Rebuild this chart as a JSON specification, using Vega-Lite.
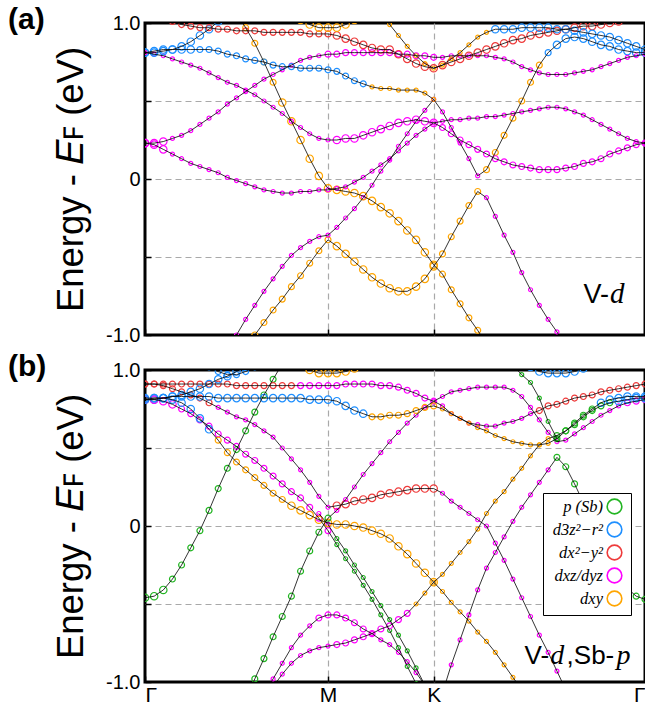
{
"$schema":"https://vega.github.io/schema/vega-lite/v6.json",
"padding":{"left":6,"top":3,"right":0,"bottom":0},
"autosize":{"type":"pad"},
"spacing":3,
"datasets":{
"kg":[{"i":1,"k":0},{"i":2,"k":0.0433},{"i":3,"k":0.0866},{"i":4,"k":0.1299},{"i":5,"k":0.1732},{"i":6,"k":0.2165},{"i":7,"k":0.2598},{"i":8,"k":0.3031},{"i":9,"k":0.3464},{"i":10,"k":0.3897},{"i":11,"k":0.433},{"i":12,"k":0.4763},{"i":13,"k":0.5196},{"i":14,"k":0.5629},{"i":15,"k":0.6062},{"i":16,"k":0.6495},{"i":17,"k":0.6928},{"i":18,"k":0.7361},{"i":19,"k":0.7794},{"i":20,"k":0.8227},{"i":21,"k":0.866},{"i":22,"k":0.9077},{"i":23,"k":0.9493},{"i":24,"k":0.991},{"i":25,"k":1.0327},{"i":26,"k":1.0743},{"i":27,"k":1.116},{"i":28,"k":1.1577},{"i":29,"k":1.1993},{"i":30,"k":1.241},{"i":31,"k":1.2827},{"i":32,"k":1.3243},{"i":33,"k":1.366},{"i":34,"k":1.4077},{"i":35,"k":1.4493},{"i":36,"k":1.491},{"i":37,"k":1.5327},{"i":38,"k":1.5743},{"i":39,"k":1.616},{"i":40,"k":1.6577},{"i":41,"k":1.6993},{"i":42,"k":1.741},{"i":43,"k":1.7827},{"i":44,"k":1.8243},{"i":45,"k":1.866},{"i":46,"k":1.9077},{"i":47,"k":1.9493},{"i":48,"k":1.991},{"i":49,"k":2.0327},{"i":50,"k":2.0743},{"i":51,"k":2.116},{"i":52,"k":2.1577},{"i":53,"k":2.1993},{"i":54,"k":2.241},{"i":55,"k":2.2827},{"i":56,"k":2.3243},{"i":57,"k":2.366}],
"codes":[{"c":"g1","orb":"p (Sb)","w":1},{"c":"g2","orb":"p (Sb)","w":2},{"c":"g3","orb":"p (Sb)","w":3},{"c":"b1","orb":"d3z²−r²","w":1},{"c":"b2","orb":"d3z²−r²","w":2},{"c":"b3","orb":"d3z²−r²","w":3},{"c":"r1","orb":"dx²−y²","w":1},{"c":"r2","orb":"dx²−y²","w":2},{"c":"r3","orb":"dx²−y²","w":3},{"c":"m1","orb":"dxz/dyz","w":1},{"c":"m2","orb":"dxz/dyz","w":2},{"c":"m3","orb":"dxz/dyz","w":3},{"c":"o1","orb":"dxy","w":1},{"c":"o2","orb":"dxy","w":2},{"c":"o3","orb":"dxy","w":3}],
"bd":[
{"p":"a","b":"a1","e":[null,null,null,null,null,null,null,null,null,null,null,-1.08,-1,-0.92,-0.84,-0.77,-0.69,-0.62,-0.54,-0.46,-0.39,-0.43,-0.48,-0.53,-0.58,-0.63,-0.67,-0.7,-0.72,-0.72,-0.69,-0.64,-0.56,-0.48,-0.37,-0.27,-0.17,-0.08,-0.12,-0.24,-0.36,-0.47,-0.6,-0.71,-0.81,-0.9,-0.98,-1.07],
"c":["o2","o2","o2","o2","o2","o2","o2","o2","o2","o2","o2","o2","o2","o2","o2","o2","o2","o2","o2","o2","o2","o3","o3","o3","o3","o3","o3","o3","o3","o3","o3","o3","o3","o2","o2","o2","o2","o2","m1","m1","m1","m1","m1","m1","m1","m1","m1","m1"]},
{"p":"a","b":"a2","e":[null,null,null,null,null,null,null,null,null,-1.1,-1,-0.9,-0.81,-0.72,-0.64,-0.56,-0.49,-0.44,-0.4,-0.37,-0.36,-0.31,-0.25,-0.19,-0.12,-0.04,0.05,0.12,0.21,0.29,0.37,0.44,0.51,0.43,0.33,0.23,0.13,0.02,0.06,0.17,0.28,0.39,0.5,0.62,0.73,0.81,0.86,0.9,0.91,0.9,0.88,0.86,0.85,0.83,0.82,0.81,0.81],
"c":["m1","m1","m1","m1","m1","m1","m1","m1","m1","m1","m1","m1","m1","m1","m1","m1","m1","m1","m1","m1","m1","m1","m1","m1","m1","m1","m1","m1","m1","m1","m1","m1","m1","m1","m1","m1","m1","m1","o2","o2","o2","o2","o2","o2","o2","b2","b3","b3","b3","b3","b3","b3","b3","b3","b3","b3","b3"]},
{"p":"a","b":"a3","e":[null,null,null,null,null,null,null,null,null,null,1.06,0.97,0.87,0.75,0.62,0.49,0.37,0.25,0.13,0.02,-0.06,-0.07,-0.08,-0.09,-0.11,-0.14,-0.18,-0.22,-0.27,-0.33,-0.39,-0.47,-0.55,-0.61,-0.71,-0.8,-0.89,-0.97,-1.06],
"c":["o2","o2","o2","o2","o2","o2","o2","o2","o2","o2","o2","o2","o2","o2","o2","o3","o3","o3","o3","o3","o3","o3","o3","o3","o3","o3","o3","o3","o3","o3","o3","o3","o3","o2","o2","o2","o2","o2","o2"]},
{"p":"a","b":"a4","e":[0.23,0.22,0.19,0.16,0.13,0.1,0.08,0.06,0.04,0.01,-0.01,-0.03,-0.05,-0.07,-0.08,-0.09,-0.09,-0.08,-0.08,-0.07,-0.07,-0.06,-0.05,-0.02,0.01,0.05,0.09,0.13,0.18,0.23,0.28,0.32,0.36,0.33,0.29,0.25,0.22,0.19,0.16,0.13,0.11,0.09,0.08,0.07,0.06,0.06,0.06,0.07,0.08,0.1,0.11,0.13,0.16,0.18,0.2,0.22,0.23],
"c":["m3","m3","m3","m1","m1","m1","m1","m1","m1","m1","m1","m1","m1","m1","m1","m1","m1","m1","m1","m1","m1","m1","m1","m1","m1","m1","m1","m1","m1","m1","m1","m1","m1","m2","m2","m2","m2","m2","m2","m2","m2","m2","m2","m2","m2","m2","m2","m2","m2","m2","m2","m2","m2","m2","m2","m2","m2"]},
{"p":"a","b":"a5","e":[0.23,0.23,0.24,0.26,0.28,0.31,0.35,0.39,0.43,0.48,0.52,0.56,0.6,0.64,0.67,0.7,0.73,0.76,0.78,0.79,0.8,0.8,0.81,0.81,0.81,0.81,0.81,0.81,0.8,0.8,0.79,0.79,0.78,0.78,0.79,0.79,0.79,0.79,0.79,0.78,0.77,0.75,0.72,0.7,0.68,0.67,0.67,0.67,0.68,0.69,0.7,0.72,0.74,0.76,0.78,0.79,0.8],
"c":["m3","m3","m3","m1","m1","m1","m1","m1","m1","m1","m1","m1","m1","m1","m1","m1","m1","m1","m1","m1","m2","m2","m2","m2","m2","m2","m2","m2","m2","m2","m2","m2","m2","m1","m1","m1","m1","m1","m1","m1","m1","m1","m1","m1","m1","m1","m1","m1","m1","m1","m1","m1","m1","m1","m1","m1","m1"]},
{"p":"a","b":"a6","e":[0.81,0.8,0.79,0.77,0.75,0.73,0.71,0.68,0.65,0.62,0.6,0.57,0.54,0.5,0.46,0.42,0.37,0.33,0.29,0.26,0.25,0.25,0.26,0.26,0.28,0.3,0.32,0.34,0.36,0.37,0.38,0.37,0.36,0.37,0.38,0.38,0.39,0.39,0.4,0.4,0.41,0.42,0.43,0.44,0.45,0.46,0.46,0.45,0.43,0.41,0.38,0.35,0.32,0.29,0.26,0.24,0.23],
"c":["m1","m1","m1","m1","m1","m1","m1","m1","m1","m1","m1","m1","m1","m1","m1","m1","m1","m1","m1","m1","m1","m3","m3","m3","m3","m3","m3","m3","m3","m3","m3","m3","m3","m1","m1","m1","m1","m1","m1","m1","m1","m1","m1","m1","m1","m1","m1","m1","m1","m1","m1","m1","m1","m1","m1","m1","m1"]},
{"p":"a","b":"a7","e":[0.81,0.82,0.83,0.83,0.83,0.83,0.83,0.83,0.82,0.8,0.79,0.77,0.76,0.75,0.73,0.72,0.72,0.71,0.71,0.71,0.7,0.69,0.66,0.63,0.61,0.59,0.58,0.58,0.57,0.57,0.57,0.55,0.51],
"c":["b3","b3","b3","b3","b3","b3","b2","b2","b2","b2","b2","b2","b2","b2","b2","b2","b2","b2","b2","b2","b2","b2","b2","b2","b2","o1","o1","o1","o1","o1","o1","o1","o1"]},
{"p":"a","b":"a8","e":[0.81,0.81,0.82,0.83,0.85,0.88,0.92,0.96,1.01],"c":["b3","b3","b3","b3","b3","b3","b3","b3","b3"]},
{"p":"a","b":"a9","e":[null,null,1.03,1.01,0.99,0.98,0.97,0.97,0.96,0.96,0.95,0.95,0.95,0.94,0.94,0.94,0.94,0.94,0.93,0.93,0.93,0.92,0.9,0.88,0.86,0.84,0.83,0.83,0.8,0.77,0.74,0.72,0.71,0.73,0.75,0.77,0.79,0.81,0.83,0.85,0.87,0.89,0.9,0.92,0.93,0.94,0.95,0.96,0.97,0.98,0.98,0.99,1,1.01],
"c":["r2","r2","r2","r2","r2","r2","r2","r2","r2","r2","r2","r2","r2","r2","r2","r2","r2","r2","r2","r2","r2","r3","r3","r3","r3","r3","r3","r3","r3","r3","r3","r3","r3","r3","r3","r3","r3","r3","r3","r3","r3","r3","r3","r3","r3","r3","r3","r3","r3","r3","r3","r3","r3","r3"]},
{"p":"a","b":"a10","e":[null,null,null,null,null,null,null,null,null,null,null,null,null,null,null,null,null,null,null,null,null,null,null,null,null,null,1.05,0.99,0.92,0.85,0.79,0.74,0.71,0.73,0.77,0.81,0.86,0.91,0.94,0.96,0.96,0.96,0.97,0.97,0.97,0.97,0.96,0.96,0.95,0.94,0.93,0.92,0.91,0.89,0.87,0.85,0.83],
"c":["o1","o1","o1","o1","o1","o1","o1","o1","o1","o1","o1","o1","o1","o1","o1","o1","o1","o1","o1","o1","o1","o1","o1","o1","o1","o1","o1","o1","o1","o1","o1","o1","o1","o1","o1","o1","o1","o1","o1","b3","b3","b3","b3","b3","b3","b3","b3","b3","b3","b3","b3","b3","b3","b3","b3","b3","b3"]},
{"p":"a","b":"a11","e":[null,null,null,null,null,null,null,null,null,null,null,null,null,null,null,null,null,1.02,0.99,0.97,0.97,0.97,0.99,1.02],"c":["o3","o3","o3","o3","o3","o3","o3","o3","o3","o3","o3","o3","o3","o3","o3","o3","o3","o3","o3","o3","o3","o3","o3","o3"]},
{"p":"b","b":"b1","e":[-0.46,-0.45,-0.41,-0.34,-0.25,-0.14,-0.03,0.1,0.24,0.37,0.49,0.61,0.73,0.84,0.94,1.04],"c":["g3","g3","g3","g2","g2","g2","g2","g2","g2","g2","g2","g2","g2","g2","g2","g2"]},
{"p":"b","b":"b2","e":[0.91,0.91,0.91,0.91,0.91,0.91,0.91,0.91,0.91,0.91,0.9,0.9,0.9,0.9,0.9,0.9,0.9,0.9,0.9,0.9,0.9,0.9,0.91,0.91,0.91,0.91,0.9,0.9,0.89,0.87,0.85,0.82,0.8,0.77,0.72,0.69,0.66,0.65,0.64,0.64,0.66,0.67,0.69,0.72,0.74,0.77,0.78,0.8,0.82,0.83,0.84,0.86,0.87,0.88,0.89,0.9,0.91],
"c":["r2","r2","r2","r2","r2","r2","r2","r2","r2","r2","r2","r2","r2","r2","r2","r2","r2","m2","m2","m2","m2","m2","m2","m2","m2","m2","m2","m2","m2","m2","m2","m2","m2","m1","m1","m1","m1","m1","m1","m1","m1","m1","m1","m1","r2","r2","r2","r2","r2","r2","r2","r2","r2","r2","r2","r2","r2"]},
{"p":"b","b":"b3","e":[0.91,0.91,0.9,0.88,0.86,0.84,0.82,0.79,0.76,0.73,0.7,0.68,0.65,0.61,0.57,0.5,0.43,0.36,0.28,0.19,0.12,0.13,0.14,0.16,0.17,0.18,0.2,0.21,0.22,0.23,0.24,0.24,0.24,0.21,0.16,0.12,0.08,0.04,0,-0.11,-0.22,-0.34,-0.46,-0.58,-0.7,-0.81,-0.93,-1.05],
"c":["r2","r2","r2","r2","r2","r2","r2","r2","m1","m1","m1","m1","m1","m1","m1","m1","m1","m1","m1","m1","m1","r3","r3","r3","r3","r3","r3","r3","r3","r3","r3","r3","r3","m1","m1","m1","m1","m1","m1","m1","m1","m1","m1","m1","m1","m1","m1","m1"]},
{"p":"b","b":"b4","e":[0.81,0.81,0.82,0.83,0.84,0.86,0.88,0.91,0.94,0.96,0.99,1.02],"c":["b3","b3","b3","b3","b3","b3","b3","b3","b3","b3","b3","b3"]},
{"p":"b","b":"b5","e":[0.81,0.81,0.8,0.78,0.75,0.72,0.68,0.64,0.59,0.55,0.51,0.46,0.42,0.37,0.32,0.27,0.22,0.18,0.12,0.05,-0.03,-0.12,-0.21,-0.29,-0.38,-0.47,-0.57,-0.67,-0.78,-0.9,-1.01],
"c":["m3","m3","m3","m3","m2","m2","m2","m2","m2","m2","m2","m2","m2","m2","m2","m2","m2","m2","m2","m2","m2","g1","g1","g1","g1","g1","g1","g1","g1","g1","g1"]},
{"p":"b","b":"b16","e":[null,null,null,null,null,null,null,null,null,null,null,null,null,null,null,null,null,null,null,0.08,0.01,-0.08,-0.16,-0.25,-0.33,-0.42,-0.51,-0.6,-0.7,-0.8,-0.91,-1.02],
"c":["m1","m1","m1","m1","m1","m1","m1","m1","m1","m1","m1","m1","m1","m1","m1","m1","m1","m1","m1","m1","m1","g1","g1","g1","g1","g1","g1","g1","g1","g1","g1","g1"]},
{"p":"b","b":"b6","e":[0.81,0.82,0.82,0.81,0.79,0.75,0.69,0.62,0.55,0.47,0.41,0.36,0.31,0.26,0.21,0.17,0.13,0.1,0.07,0.04,0.02,0.01,0.01,0,-0.01,-0.03,-0.05,-0.08,-0.13,-0.18,-0.24,-0.3,-0.36,-0.42,-0.49,-0.55,-0.61,-0.68,-0.74,-0.81,-0.89,-0.97,-1.05],
"c":["b3","b3","b3","b3","b3","b3","b3","b3","o2","o2","o2","o2","o2","o2","o2","o2","o3","o3","o3","o3","o3","o3","o3","o3","o3","o3","o3","o3","o3","o3","o3","o3","o3","o1","o1","o1","o1","o1","o1","o1","o1","o1","o1"]},
{"p":"b","b":"b7","e":[null,null,null,null,null,null,null,null,null,null,null,-1.12,-0.98,-0.85,-0.71,-0.58,-0.45,-0.29,-0.16,-0.04,0.05,0.1,0.17,0.25,0.33,0.4,0.47,0.54,0.6,0.66,0.71,0.76,0.8,0.83,0.86,0.87,0.88,0.89,0.89,0.89,0.89,0.87,0.83,0.76,0.68,0.6,0.54,0.55,0.59,0.63,0.67,0.71,0.74,0.77,0.79,0.8,0.81],
"c":["g2","g2","g2","g2","g2","g2","g2","g2","g2","g2","g2","g2","g2","g2","g2","g2","g2","g2","g2","g2","g2","m1","m1","m1","m1","m1","m1","m1","m1","m1","m1","m1","m1","m1","m1","m1","m1","m1","m1","m1","m1","m1","m1","m1","m1","m1","m1","m1","m1","m1","m1","m1","m1","m1","m2","m2","m2"]},
{"p":"b","b":"b8","e":[null,null,null,null,null,null,null,null,null,null,null,null,null,-1.07,-0.98,-0.88,-0.78,-0.7,-0.64,-0.59,-0.57,-0.57,-0.59,-0.62,-0.66,-0.69,-0.73,-0.76,-0.81,-0.87,-0.94,-1.02],
"c":["m1","m1","m1","m1","m1","m1","m1","m1","m1","m1","m1","m1","m1","m1","m1","m1","m1","m1","m1","m2","m2","m2","m2","m2","m2","m1","m1","m1","m1","m1","m1","m1"]},
{"p":"b","b":"b9","e":[null,null,null,null,null,null,null,null,null,null,null,null,null,null,-1.03,-0.95,-0.88,-0.83,-0.8,-0.78,-0.77,-0.76,-0.75,-0.73,-0.71,-0.69,-0.66,-0.64,-0.6,-0.56,-0.5,-0.43,-0.36,-0.31,-0.24,-0.17,-0.1,-0.02,0.08,0.16,0.22,0.3,0.37,0.45,0.52,0.56,0.58,0.61,0.65,0.7,0.74,0.77,0.79,0.8,0.81,0.82,0.82],
"c":["m1","m1","m1","m1","m1","m1","m1","m1","m1","m1","m1","m1","m1","m1","m1","m1","m1","m1","m1","m1","m1","m2","m2","m2","m2","m2","m2","m2","m2","m2","o1","o1","o1","o1","o1","o1","o1","o1","o1","o1","o1","o1","o1","o1","o1","o1","g2","g2","g2","g2","g2","g2","g2","b3","b3","b3","b3"]},
{"p":"b","b":"b10","e":[0.82,0.82,0.82,0.83,0.83,0.83,0.83,0.83,0.82,0.82,0.82,0.82,0.82,0.82,0.82,0.82,0.82,0.82,0.81,0.81,0.81,0.8,0.77,0.74,0.72,0.7,0.7,0.71,0.71,0.72,0.74,0.76,0.77,0.75,0.72,0.69,0.66,0.63,0.61,0.58,0.56,0.54,0.53,0.52,0.52,0.53,0.56,0.61,0.66,0.71,0.75,0.79,0.81,0.82,0.83,0.83,0.83],
"c":["b3","b3","b3","b3","b3","b3","b3","b3","b3","b3","b3","b3","b3","b3","b3","b3","b3","b3","b3","b3","b3","b3","b3","b3","b3","o2","o2","o2","o2","o2","o2","o2","o2","o1","o1","o1","o1","o1","o1","o1","o1","o1","o1","o1","o1","o1","g2","g2","g2","g2","g2","b3","b3","b3","b3","b3","b3"]},
{"p":"b","b":"b11","e":[null,null,null,null,null,null,null,null,null,null,null,null,null,null,null,null,null,null,null,null,null,null,null,null,null,null,null,null,null,null,null,null,null,-1.07,-0.89,-0.73,-0.57,-0.41,-0.27,-0.17,-0.07,0.03,0.12,0.2,0.28,0.36,0.44,0.38,0.27,0.15,0.03,-0.09,-0.21,-0.32,-0.4,-0.45,-0.47],
"c":["m1","m1","m1","m1","m1","m1","m1","m1","m1","m1","m1","m1","m1","m1","m1","m1","m1","m1","m1","m1","m1","m1","m1","m1","m1","m1","m1","m1","m1","m1","m1","m1","m1","m1","m1","m1","m1","m1","m1","m1","m1","m1","m1","m1","m1","m1","g2","g2","g2","g2","g2","g2","g2","g2","g2","g2","g2"]},
{"p":"b","b":"b12","e":[null,null,null,null,null,null,null,null,null,null,null,null,null,null,null,null,null,null,null,null,null,null,null,null,null,null,null,null,null,null,null,null,null,null,null,null,null,null,null,null,null,1.03,0.97,0.92,0.82,0.67,0.56],
"c":["g1","g1","g1","g1","g1","g1","g1","g1","g1","g1","g1","g1","g1","g1","g1","g1","g1","g1","g1","g1","g1","g1","g1","g1","g1","g1","g1","g1","g1","g1","g1","g1","g1","g1","g1","g1","g1","g1","g1","g1","g1","g1","g1","g1","g1","g1","g1"]},
{"p":"b","b":"b13","e":[null,null,null,null,null,null,null,null,null,null,null,null,null,null,null,null,null,1.03,1,0.98,0.98,0.98,0.99,1.01,1.03],"c":["o3","o3","o3","o3","o3","o3","o3","o3","o3","o3","o3","o3","o3","o3","o3","o3","o3","o3","o3","o3","o3","o3","o3","o3","o3"]},
{"p":"b","b":"b14","e":[null,null,null,null,null,null,null,null,null,null,null,null,null,null,null,null,null,null,null,null,null,null,null,null,null,null,null,null,null,null,null,null,null,null,null,null,null,null,null,null,null,null,null,1.02,0.99,0.98,0.98,0.98,0.99,1.01],
"c":["b3","b3","b3","b3","b3","b3","b3","b3","b3","b3","b3","b3","b3","b3","b3","b3","b3","b3","b3","b3","b3","b3","b3","b3","b3","b3","b3","b3","b3","b3","b3","b3","b3","b3","b3","b3","b3","b3","b3","b3","b3","b3","b3","b3","b3","b3","b3","b3","b3","b3"]},
{"p":"b","b":"b15","e":[null,null,null,null,null,null,null,1.02,0.99,0.97,0.97,0.99,1.02],"c":["b2","b2","b2","b2","b2","b2","b2","b2","b2","b2","b2","b2","b2"]}
]
},
"vconcat":[
{
"width":500,"height":312,
"title":{"text":"(a)","anchor":"start","frame":"group","fontSize":30,"fontWeight":"bold","font":"Liberation Sans","color":"black","dx":-137,"dy":22,"offset":0},
"data":{"name":"bd"},
"transform":[{"filter":"datum.p=='a'"},{"flatten":["e","c"]},{"window":[{"op":"row_number","as":"i"}],"groupby":["b"]},{"filter":"isValid(datum.e)"},{"lookup":"i","from":{"data":{"name":"kg"},"key":"i","fields":["k"]}},{"lookup":"c","from":{"data":{"name":"codes"},"key":"c","fields":["orb","w"]}}],
"encoding":{
"x":{"field":"k","type":"quantitative","scale":{"domain":[0,2.366],"nice":false,"zero":false},"axis":{"values":[0,0.866,1.366,2.366],"labels":false,"title":null,"grid":true,"ticks":true,"tickSize":-6,"tickColor":"black","tickWidth":1.5,"gridOpacity":{"condition":{"test":"datum.value<0.1||datum.value>2.3","value":0},"value":1}}},
"y":{"field":"e","type":"quantitative","scale":{"domain":[-1,1],"nice":false},"axis":{"values":[-1,-0.5,0,0.5,1],"labelExpr":"datum.value==1?'1.0':(datum.value==-1?'-1.0':(datum.value==0?'0':''))","labelFontSize":20,"labelPadding":11,"ticks":true,"tickSize":-6,"tickColor":"black","tickWidth":1.5,"title":"Energy - 𝐸ꜰ (eV)","titleFontSize":36.5,"titleFontWeight":"normal","titlePadding":15,"grid":true,"gridOpacity":{"condition":{"test":"abs(datum.value)==1","value":0},"value":1}}}
},
"layer":[
{"mark":{"type":"point","shape":"circle","filled":false,"strokeWidth":1.2,"opacity":1,"clip":true},
"encoding":{"color":{"field":"orb","type":"nominal","scale":{"domain":["p (Sb)","d3z²−r²","dx²−y²","dxz/dyz","dxy"],"range":["#22b522","#1e8fff","#ee3b3b","#ff00ff","#ffa500"]},"legend":null},
"size":{"field":"w","type":"ordinal","scale":{"domain":[1,2,3],"range":[16,55,130]},"legend":null}}},
{"mark":{"type":"line","color":"black","strokeWidth":0.8,"clip":true},"encoding":{"detail":{"field":"b"}}},
{"data":{"values":[{"k":2.196,"e":-0.795,"t":"V-"}]},"mark":{"type":"text","align":"right","baseline":"alphabetic","font":"Liberation Sans","fontSize":27,"color":"black"},"encoding":{"text":{"field":"t"}}},
{"data":{"values":[{"k":2.2,"e":-0.795,"t":"d"}]},"mark":{"type":"text","align":"left","baseline":"alphabetic","font":"Liberation Serif","fontStyle":"italic","fontSize":29,"color":"black"},"encoding":{"text":{"field":"t"}}}
]
},
{
"width":500,"height":312,
"title":{"text":"(b)","anchor":"start","frame":"group","fontSize":30,"fontWeight":"bold","font":"Liberation Sans","color":"black","dx":-137,"dy":22,"offset":0},
"data":{"name":"bd"},
"transform":[{"filter":"datum.p=='b'"},{"flatten":["e","c"]},{"window":[{"op":"row_number","as":"i"}],"groupby":["b"]},{"filter":"isValid(datum.e)"},{"lookup":"i","from":{"data":{"name":"kg"},"key":"i","fields":["k"]}},{"lookup":"c","from":{"data":{"name":"codes"},"key":"c","fields":["orb","w"]}}],
"encoding":{
"x":{"field":"k","type":"quantitative","scale":{"domain":[0,2.366],"nice":false,"zero":false},"axis":{"values":[0,0.866,1.366,2.366],"labelExpr":"datum.value<0.4?'Γ':(datum.value<1?'M':(datum.value<2?'K':'Γ'))","labelFontSize":21,"labelPadding":8,"ticks":true,"tickSize":-6,"tickColor":"black","tickWidth":1.5,"title":null,"grid":true,"gridOpacity":{"condition":{"test":"datum.value<0.1||datum.value>2.3","value":0},"value":1}}},
"y":{"field":"e","type":"quantitative","scale":{"domain":[-1,1],"nice":false},"axis":{"values":[-1,-0.5,0,0.5,1],"labelExpr":"datum.value==1?'1.0':(datum.value==-1?'-1.0':(datum.value==0?'0':''))","labelFontSize":20,"labelPadding":11,"ticks":true,"tickSize":-6,"tickColor":"black","tickWidth":1.5,"title":"Energy - 𝐸ꜰ (eV)","titleFontSize":36.5,"titleFontWeight":"normal","titlePadding":15,"grid":true,"gridOpacity":{"condition":{"test":"abs(datum.value)==1","value":0},"value":1}}}
},
"layer":[
{"mark":{"type":"point","shape":"circle","filled":false,"strokeWidth":1.2,"opacity":1,"clip":true},
"encoding":{"color":{"field":"orb","type":"nominal","scale":{"domain":["p (Sb)","d3z²−r²","dx²−y²","dxz/dyz","dxy"],"range":["#22b522","#1e8fff","#ee3b3b","#ff00ff","#ffa500"]},
"legend":{"title":null,"orient":"none","legendX":398,"legendY":123,"fillColor":"white","strokeColor":"black","padding":5,"symbolType":"circle","symbolSize":215,"symbolStrokeWidth":1.6,"labelFont":"Liberation Serif","labelFontStyle":"italic","labelFontSize":16.5,"labelColor":"black","labelAlign":"right","labelOffset":-20,"symbolOffset":58,"rowPadding":0,"labelLimit":200}},
"size":{"field":"w","type":"ordinal","scale":{"domain":[1,2,3],"range":[16,55,130]},"legend":null}}},
{"mark":{"type":"line","color":"black","strokeWidth":0.8,"clip":true},"encoding":{"detail":{"field":"b"}}},
{"data":{"values":[{"k":1.912,"e":-0.887,"t":"V-"}]},"mark":{"type":"text","align":"right","baseline":"alphabetic","font":"Liberation Sans","fontSize":26,"color":"black"},"encoding":{"text":{"field":"t"}}},
{"data":{"values":[{"k":1.995,"e":-0.887,"t":",Sb-"}]},"mark":{"type":"text","align":"left","baseline":"alphabetic","font":"Liberation Sans","fontSize":26,"color":"black"},"encoding":{"text":{"field":"t"}}},
{"data":{"values":[{"k":1.918,"e":-0.887,"t":"d"},{"k":2.231,"e":-0.887,"t":"p"}]},"mark":{"type":"text","align":"left","baseline":"alphabetic","font":"Liberation Serif","fontStyle":"italic","fontSize":28,"color":"black"},"encoding":{"text":{"field":"t"}}}
]
}
],
"resolve":{"scale":{"color":"independent","size":"independent"},"legend":{"color":"independent"}},
"config":{
"view":{"stroke":"black","strokeWidth":3},
"axis":{"labelFont":"Liberation Sans","titleFont":"Liberation Sans","labelColor":"black","titleColor":"black","gridColor":"#a9a9a9","gridDash":[6,4],"gridWidth":1.2,"domain":false,"ticks":false}
}
}
